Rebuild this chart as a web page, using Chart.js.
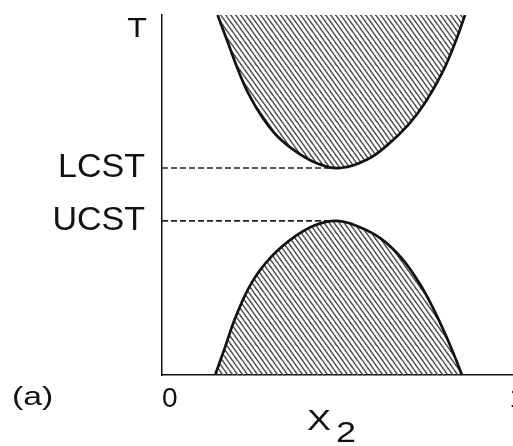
<!DOCTYPE html>
<html>
<head>
<meta charset="utf-8">
<script src="https://cdn.jsdelivr.net/npm/chart.js@4"></script>
<style>
html, body { margin: 0; padding: 0; background: #fff; }
#wrap { width: 513px; height: 446px; }
</style>
</head>
<body>
<div id="wrap"><canvas id="graphPhase"></canvas></div>
<script>
// upper two-phase region (closed loop above the LCST)
const upperX = [0.160, 0.190, 0.219, 0.248, 0.288, 0.334, 0.391, 0.449, 0.512, 0.593, 0.650, 0.708, 0.757, 0.806, 0.843, 0.872];
const upperT = [100, 92.2, 84.7, 78.3, 71.7, 66.1, 61.7, 58.7, 57.5, 60.0, 64.0, 69.4, 75.6, 83.9, 92.2, 100];

// lower two-phase region (dome below the UCST)
const lowerX = [0.153, 0.181, 0.213, 0.259, 0.314, 0.377, 0.440, 0.504, 0.566, 0.630, 0.690, 0.740, 0.780, 0.820, 0.852, 0.863];
const lowerT = [0, 7.6, 16.4, 25.8, 32.8, 38.1, 41.6, 42.8, 41.2, 37.9, 32.4, 25.6, 18.6, 10.3, 2.8, 0];

// critical temperatures
const LCST = 57.5;
const UCST = 42.8;

// axis ticks
const tempTicks = [UCST, LCST];
const tempLabels = ['UCST', 'LCST'];
const xTicks = [0, 1];
const xLabels = ['0', '1'];

const toPoints = (xs, ys) => xs.map((x, i) => ({ x: x, y: ys[i] }));

// x where each curve reaches its critical point
const lcstX = upperX[upperT.indexOf(Math.min(...upperT))];
const ucstX = lowerX[lowerT.indexOf(Math.max(...lowerT))];

// diagonal hatching for the two-phase areas
function hatch() {
    const tile = document.createElement('canvas');
    tile.width = 5;
    tile.height = 7;
    const c = tile.getContext('2d');
    c.strokeStyle = '#4e4e4e';
    c.lineWidth = 1.4;
    for (let k = -1; k <= 1; k++) {
        c.beginPath();
        c.moveTo(k * 5 - 5, -7);
        c.lineTo(k * 5 + 10, 14);
        c.stroke();
    }
    return c.createPattern(tile, 'repeat');
}

const pattern = hatch();

const curve = {
    borderColor: '#111',
    borderWidth: 2.7,
    backgroundColor: pattern,
    pointRadius: 0,
    tension: 0.4
};

const dashed = {
    borderColor: '#222',
    borderWidth: 1.6,
    borderDash: [6, 3],
    pointRadius: 0,
    fill: false
};

// text drawn a little wider than the font, like the lettering of the figure
function wideText(ctx, text, x, y, sx) {
    ctx.save();
    ctx.translate(x, y);
    ctx.scale(sx, 1);
    ctx.fillText(text, 0, 0);
    ctx.restore();
}

// T, (a) and the x-axis symbol
const figureText = {
    id: 'figureText',
    afterDraw(chart) {
        const { ctx, chartArea: a } = chart;
        ctx.save();
        ctx.fillStyle = '#111';
        ctx.textBaseline = 'middle';
        ctx.textAlign = 'right';
        ctx.font = '28px "Liberation Sans"';
        wideText(ctx, 'T', a.left - 15, a.top + 14, 1.15);
        ctx.textAlign = 'left';
        ctx.font = '25px "Liberation Sans"';
        wideText(ctx, '(a)', 12, a.bottom + 23, 1.35);
        ctx.font = '30px "Liberation Sans"';
        wideText(ctx, 'X', a.left + 145, a.bottom + 47, 1.2);
        wideText(ctx, '2', a.left + 174, a.bottom + 59, 1.2);
        ctx.restore();
    }
};

Chart.defaults.font.family = '"Liberation Sans", Arial, sans-serif';
Chart.defaults.color = '#111';

const phaseChart = new Chart(document.getElementById('graphPhase'), {
    type: 'line',
    data: {
        datasets: [
            Object.assign({ data: toPoints(upperX, upperT), fill: 'end' }, curve),
            Object.assign({ data: toPoints(lowerX, lowerT), fill: 'origin' }, curve),
            Object.assign({ data: [{ x: 0, y: LCST }, { x: lcstX, y: LCST }] }, dashed),
            Object.assign({ data: [{ x: 0, y: UCST }, { x: ucstX, y: UCST }] }, dashed)
        ]
    },
    options: {
        responsive: true,
        maintainAspectRatio: false,
        animation: false,
        layout: { padding: { top: 15, right: 0, bottom: 0, left: 0 } },
        plugins: {
            legend: { display: false },
            tooltip: { enabled: false }
        },
        scales: {
            x: {
                type: 'linear',
                min: 0,
                max: 1.01,
                grid: { display: false, drawTicks: false },
                border: { color: '#111', width: 1.5 },
                afterBuildTicks: s => { s.ticks = xTicks.map(v => ({ value: v })); },
                afterFit: s => { s.height = 71; s.paddingLeft = 0; s.paddingRight = 0; },
                ticks: {
                    align: 'start',
                    padding: 7,
                    autoSkip: false,
                    maxRotation: 0,
                    font: { size: 28 },
                    callback: (v, i) => xLabels[i]
                }
            },
            y: {
                min: 0,
                max: 100,
                grid: { display: false, drawTicks: false },
                border: { color: '#111', width: 1.5 },
                afterBuildTicks: s => { s.ticks = tempTicks.map(v => ({ value: v })); },
                afterFit: s => { s.width = 162; s.paddingTop = 0; s.paddingBottom = 0; },
                ticks: {
                    padding: 17,
                    autoSkip: false,
                    font: { size: 34 },
                    callback: (v, i) => tempLabels[i]
                }
            }
        }
    },
    plugins: [figureText]
});
</script>
</body>
</html>
